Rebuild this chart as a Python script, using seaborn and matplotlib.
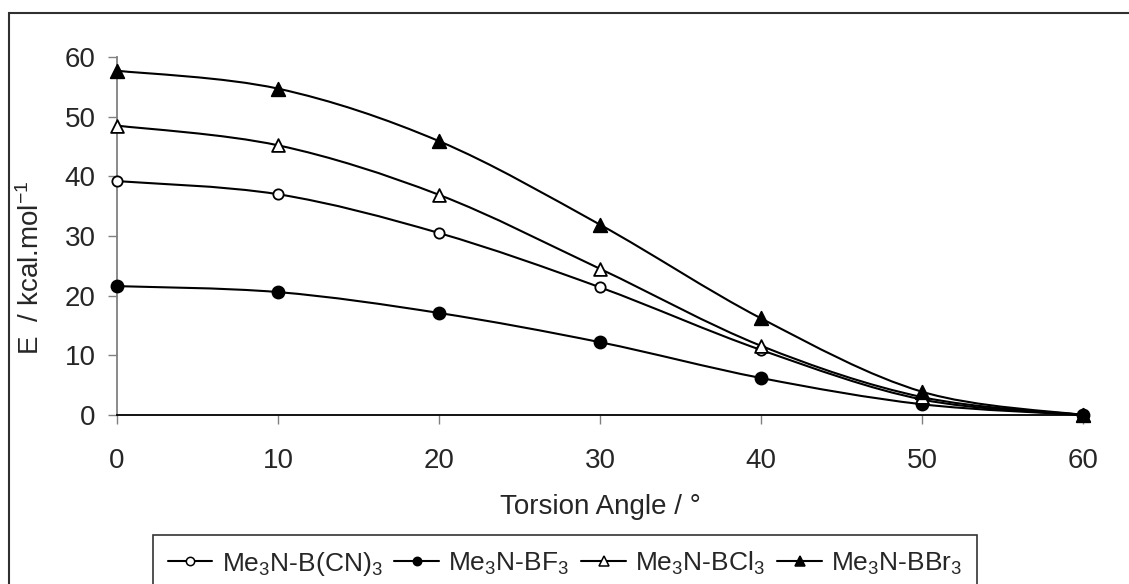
import numpy as np
import pandas as pd
import matplotlib
matplotlib.use("Agg")
import matplotlib.pyplot as plt
from matplotlib.path import Path
from matplotlib.patches import PathPatch, Rectangle
from matplotlib.lines import Line2D
import seaborn as sns

# Torsion angle (degrees) and rotational energy (kcal/mol) per adduct
angles = [0, 10, 20, 30, 40, 50, 60]
e_bcn3 = [39.2, 37.0, 30.5, 21.4, 10.9, 2.6, 0.0]
e_bf3 = [21.6, 20.6, 17.1, 12.2, 6.2, 1.8, 0.0]
e_bcl3 = [48.5, 45.2, 36.9, 24.5, 11.6, 3.0, 0.0]
e_bbr3 = [57.7, 54.7, 45.9, 31.9, 16.2, 3.9, 0.0]
labels = ["Me$_3$N-B(CN)$_3$", "Me$_3$N-BF$_3$", "Me$_3$N-BCl$_3$", "Me$_3$N-BBr$_3$"]
x_ticks = [0, 10, 20, 30, 40, 50, 60]
y_ticks = [0, 10, 20, 30, 40, 50, 60]

sns.set_style("white")
plt.rcParams["font.family"] = ["Liberation Sans", "DejaVu Sans"]
plt.rcParams["mathtext.fontset"] = "custom"
plt.rcParams["mathtext.rm"] = "Liberation Sans"
plt.rcParams["mathtext.it"] = "Liberation Sans"
plt.rcParams["mathtext.default"] = "regular"

W, H = 1129, 584
FS = 20
fig = plt.figure(figsize=(W / 100, H / 100), dpi=100)
ax = fig.add_axes([117 / W, 1 - 415 / H, (1083 - 117) / W, (415 - 57) / H])

df = pd.DataFrame({
    "angle": angles * 4,
    "energy": e_bcn3 + e_bf3 + e_bcl3 + e_bbr3,
    "complex": sum([[lab] * len(angles) for lab in labels], []),
})

styles = {
    labels[0]: dict(marker="o", face="white", size=55),
    labels[1]: dict(marker="o", face="black", size=75),
    labels[2]: dict(marker="^", face="white", size=85),
    labels[3]: dict(marker="^", face="black", size=95),
}


def smooth_path(xs, ys):
    """Cubic Bezier through the points, spreadsheet-style smoothing."""
    pts = np.column_stack([xs, ys]).astype(float)
    n = len(pts)
    verts = [pts[0]]
    codes = [Path.MOVETO]
    for i in range(n - 1):
        p0 = pts[i - 1] if i > 0 else pts[i]
        p1, p2 = pts[i], pts[i + 1]
        p3 = pts[i + 2] if i + 2 < n else pts[i + 1]
        c1 = p1 + (p2 - p0) / 6.0
        c2 = p2 - (p3 - p1) / 6.0
        verts += [c1, c2, p2]
        codes += [Path.CURVE4] * 3
    return Path(verts, codes)


handles = []
for lab in labels:
    sub = df[df["complex"] == lab]
    st = styles[lab]
    ax.add_patch(PathPatch(smooth_path(sub["angle"].values, sub["energy"].values),
                           facecolor="none", edgecolor="black", lw=1.5, zorder=3,
                           clip_on=False))
    sns.scatterplot(data=sub, x="angle", y="energy", ax=ax, marker=st["marker"],
                    s=st["size"], facecolor=st["face"], edgecolor="black",
                    linewidth=1.3, zorder=4, clip_on=False, legend=False)
    handles.append(Line2D([], [], color="black", lw=1.5, marker=st["marker"],
                          markerfacecolor=st["face"], markeredgecolor="black",
                          markersize=6 if st["marker"] == "o" else 7,
                          markeredgewidth=1.1))

ax.set_xlim(0, 60)
ax.set_ylim(0, 60)
ax.set_xticks(x_ticks)
ax.set_yticks(y_ticks)
ax.tick_params(axis="both", labelsize=FS, direction="out", length=6.5,
               width=1, color="#808080", bottom=True, left=True)
ax.tick_params(axis="y", pad=9)
ax.tick_params(axis="x", pad=17)
for side in ("top", "right"):
    ax.spines[side].set_visible(False)
ax.spines["left"].set_color("#808080")
ax.spines["left"].set_linewidth(1.3)
ax.spines["bottom"].set_color("black")
ax.spines["bottom"].set_linewidth(1.3)
ax.set_xlabel("Torsion Angle / °", fontsize=FS)
ax.set_ylabel("E  / kcal.mol$^{-1}$", fontsize=FS)
ax.xaxis.set_label_coords(0.5, -(507 - 415) / 358, transform=ax.transAxes)
ax.yaxis.set_label_coords(-(117 - 31) / 966, (415 - 268) / 358)
ax.xaxis.label.set_va("center")
ax.yaxis.label.set_va("center")
ax.grid(False)

# outer chart border
fig.patches.append(Rectangle((9 / W, -0.05), 1.2, 1 - 13 / H + 0.05,
                             transform=fig.transFigure, fill=False,
                             edgecolor="#303030", lw=1.5, zorder=0))

leg = fig.legend(handles, labels, loc="upper left",
                 bbox_to_anchor=(153 / W, 1 - 535 / H), ncol=4, fontsize=19,
                 frameon=True, fancybox=False, edgecolor="black",
                 handlelength=1.7, handletextpad=0.35, columnspacing=0.45,
                 borderpad=0.55, borderaxespad=0)
leg.get_frame().set_linewidth(1.2)

fig.savefig("out.png", dpi=100, facecolor="white")
